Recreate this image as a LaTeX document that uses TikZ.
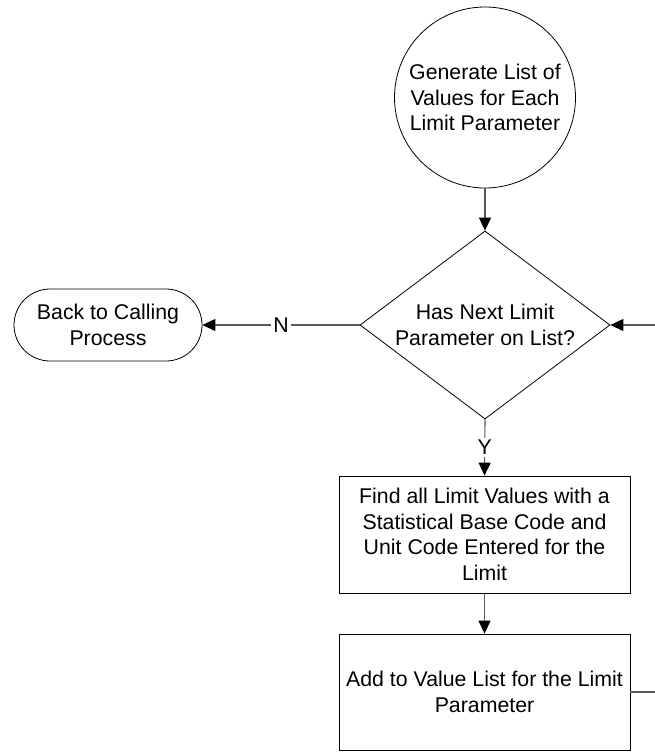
\documentclass[tikz,border=0pt]{standalone}
\usepackage{fontspec}
\setmainfont{Liberation Sans}
\usetikzlibrary{shapes.geometric,shapes.misc,arrows.meta}
\begin{document}
\begin{tikzpicture}[x=1pt,y=-1pt,
  every node/.style={font=\fontsize{21.3}{25.5}\selectfont, align=center},
  shapebox/.style={draw=black, line width=0.8pt, inner sep=2pt},
  conn/.style={draw=black!65, line width=1.1pt,
    -{Triangle[length=13pt,width=12pt,fill=black,color=black]}},
  plain/.style={draw=black!65, line width=1.1pt},
  edgelabel/.style={fill=white, inner sep=2pt}]
\useasboundingbox (0,0) rectangle (655,752);

% start: circle
\node[shapebox, circle, minimum size=181pt, inner sep=0pt] (gen) at (485,97.5)
  {Generate List of\\Values for Each\\Limit Parameter};

% decision
\node[shapebox, diamond, minimum width=250pt, minimum height=188pt, inner sep=0pt,
  label={[align=center]center:Has Next Limit\\Parameter on List?}] (dec) at (485,325) {};

% terminator
\node[shapebox, rounded rectangle, minimum width=192pt, minimum height=72pt] (back) at (108,325)
  {Back to Calling\\Process};

% process boxes
\node[shapebox, rectangle, minimum width=291pt, minimum height=117pt] (find) at (484.5,534.5)
  {Find all Limit Values with a\\Statistical Base Code and\\Unit Code Entered for the\\Limit};
\node[shapebox, rectangle, minimum width=291pt, minimum height=116pt] (add) at (484.5,692)
  {Add to Value List for the Limit\\Parameter};

% loop ends at the right border
\coordinate (loopin) at (655,325);
\coordinate (loopout) at (655,692);

% connectors
\draw[conn] (gen.south) -- (dec.north);
\draw[conn] (dec.west) -- node[edgelabel]{N} (back.east);
\draw[conn] (loopin) -- (dec.east);
\draw[conn] (dec.south) -- node[edgelabel]{Y} (find.north);
\draw[conn] (find.south) -- (add.north);
\draw[plain] (add.east) -- (loopout);
\end{tikzpicture}
\end{document}
